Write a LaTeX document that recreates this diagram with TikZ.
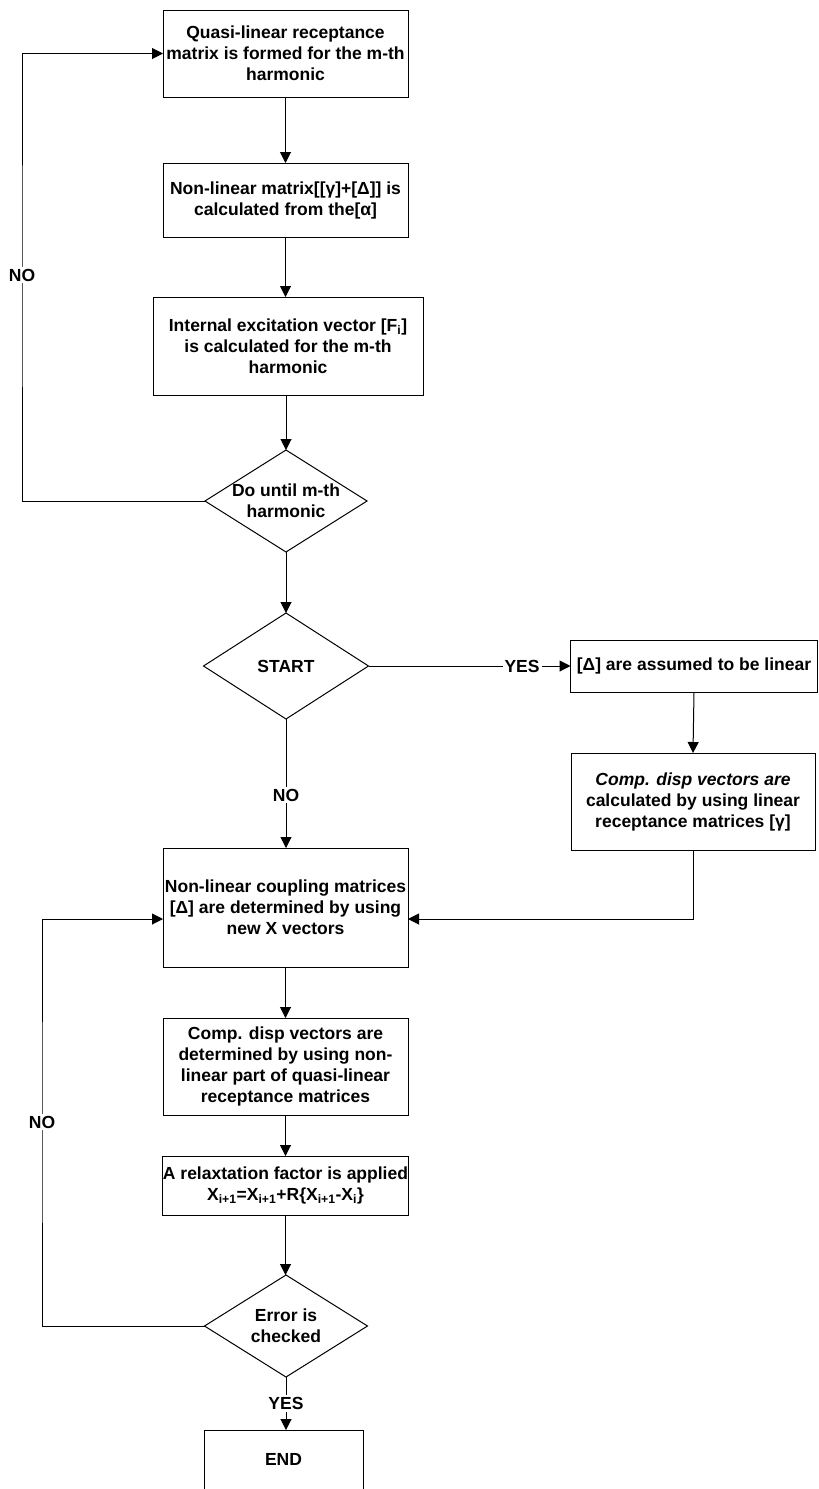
\documentclass[tikz,border=0pt]{standalone}
\usepackage{fontspec}
\setmainfont{Liberation Sans}
\usetikzlibrary{shapes.geometric,arrows.meta}
\begin{document}
\begin{tikzpicture}[x=1pt,y=-1pt,
  font=\fontsize{17.5}{21}\selectfont\bfseries,
  every node/.style={inner sep=0pt, outer sep=0pt},
  procbox/.style={draw, line width=1pt, rectangle, align=center},
  decbox/.style={draw, line width=1pt, diamond, align=center},
  arr/.style={line width=1pt, -{Triangle[length=11pt,width=11pt]}},
  lbl/.style={fill=white, inner sep=2pt}]
\useasboundingbox (0,0) rectangle (819,1489);

\node[procbox, minimum width=245, minimum height=87] (b1) at (285.5,53.5)
  {Quasi-linear receptance\\matrix is formed for the m-th\\harmonic};
\node[procbox, minimum width=245, minimum height=74] (b2) at (285.5,200)
  {Non-linear matrix[[γ]+[Δ]] is\\calculated from the[α]};
\node[procbox, minimum width=270, minimum height=98] (b3) at (288,346)
  {Internal excitation vector [F\textsubscript{i}]\\is calculated for the m-th\\harmonic};
\node[decbox, minimum width=162, minimum height=102, aspect=1.6] (d1) at (286,501)
  {Do until m-th\\harmonic};
\node[decbox, minimum width=165, minimum height=106, aspect=1.55] (d2) at (286,666)
  {START};
\node[procbox, minimum width=247, minimum height=52] (ba) at (694,666)
  {[Δ] are assumed to be linear};
\node[procbox, minimum width=244, minimum height=97] (bb) at (693,801.5)
  {\itshape Comp. disp vectors are\\calculated by using linear\\receptance matrices [γ]};
\node[procbox, minimum width=245, minimum height=119] (bc) at (285.5,907.5)
  {Non-linear coupling matrices\\{}[Δ] are determined by using\\new X vectors};
\node[procbox, minimum width=245, minimum height=97] (bd) at (285.5,1066.5)
  {Comp. disp vectors are\\determined by using non-\\linear part of quasi-linear\\receptance matrices};
\node[procbox, minimum width=245, minimum height=59] (be) at (285.5,1185.5)
  {A relaxtation factor is applied\\X\textsubscript{i+1}=X\textsubscript{i+1}+R\{X\textsubscript{i+1}-X\textsubscript{i}\}};
\node[decbox, minimum width=163, minimum height=102, aspect=1.6] (d3) at (286,1326)
  {Error is\\checked};
\node[procbox, minimum width=159, minimum height=80] (end) at (283.5,1470)
  {};
\node (endtxt) at (283.5,1459) {END};

% main flow
\draw[arr] (b1.south) -- (b1.south |- b2.north);
\draw[arr] (b2.south) -- (b2.south |- b3.north);
\draw[arr] (b3.south -| d1.north) -- (d1.north);
\draw[arr] (d1.south) -- (d2.north);
\draw[arr] (d2.south) -- node[lbl, pos=0.59] {NO} (d2.south |- bc.north);
\draw[arr] (d2.east) -- node[lbl, pos=0.76] {YES} (ba.west);
\draw[arr] (ba.south) -- (bb.north);
\draw[arr] (bb.south) |- ([yshift=-11.5pt]bc.east);
\draw[arr] (bc.south) -- (bc.south |- bd.north);
\draw[arr] (bd.south) -- (bd.south |- be.north);
\draw[arr] (be.south) -- (be.south |- d3.north);
\draw[arr] (d3.south) -- node[lbl, pos=0.5] {YES} (d3.south |- end.north);

% loops
\draw[arr] (d1.west) -| (22,275) node[lbl] {NO} |- (b1.west);
\draw[arr] (d3.west) -| (42,1122) node[lbl] {NO} |- ([yshift=-11.5pt]bc.west);
\end{tikzpicture}
\end{document}
